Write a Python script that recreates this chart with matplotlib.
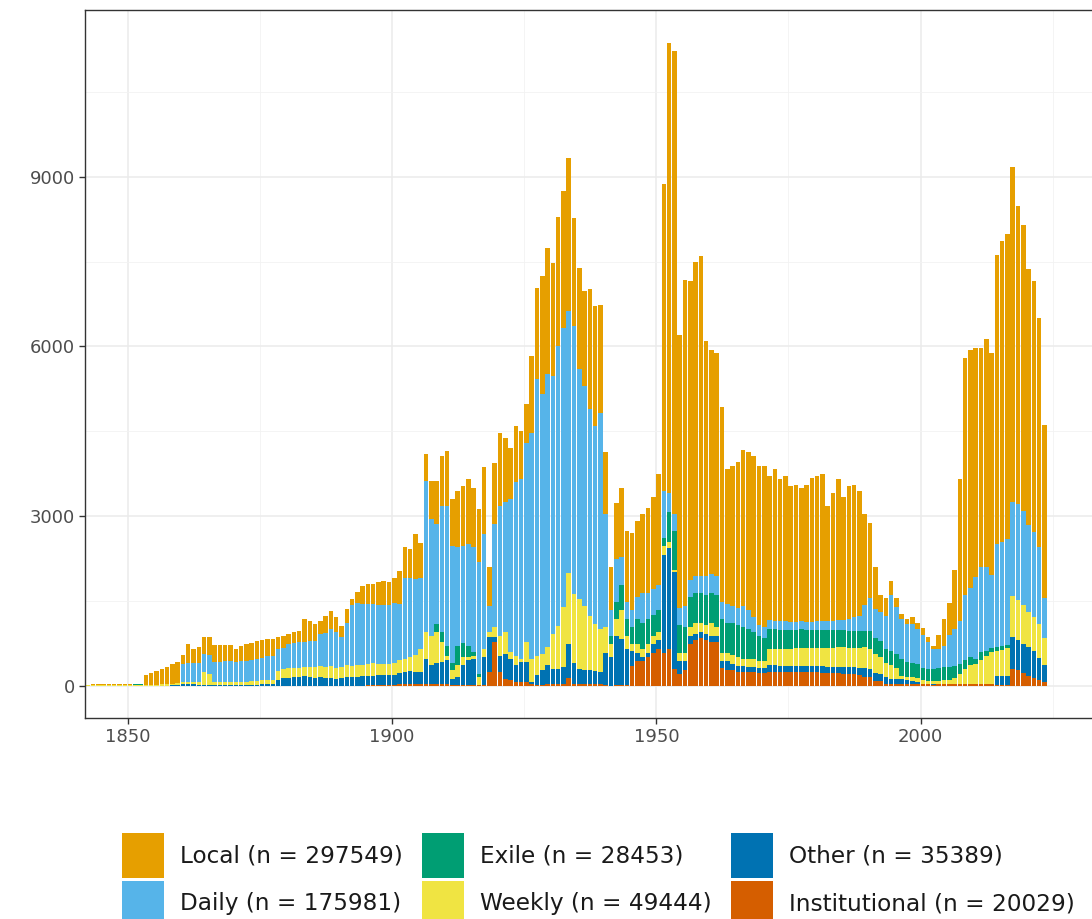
import numpy as np
import matplotlib
matplotlib.use('Agg')
import matplotlib.pyplot as plt
from matplotlib.patches import Patch

years = list(range(1842, 2024))

institutional = [
    0, 0, 0, 0, 0, 0, 0, 0, 0, 0, 0,                      # 1842-1852
    0, 0, 0, 0, 0, 0, 0, 0, 0, 0, 0, 0, 0, 0, 0, 0, 0,    # 1853-1869
    0, 0, 0, 0, 0, 0, 0, 0, 0, 0, 0, 0, 0, 0, 0, 0, 0,    # 1870-1886
    0, 0, 0, 0, 0, 0, 0, 0, 10, 10, 10, 10, 10, 20, 30,   # 1887-1901
    40, 40, 40, 30,                                       # 1902-1905
    30, 30, 30, 30, 30, 20, 20, 20, 20, 20, 5, 20, 241, 770,  # 1906-1919
    240, 124, 100, 65, 65, 65, 40,                        # 1920-1926
    20, 20, 30, 30, 30, 40, 135, 40, 30, 30, 30, 30, 30, 20,  # 1927-1940
    0, 20, 20, 20, 355, 430, 430, 505, 581, 656, 580, 650, 300,  # 1941-1953
    204, 279, 732, 807, 845, 807, 770, 770, 317, 279, 279, 241, 241, 241, 241, 234, 234,  # 1954-1970
    250, 250, 245, 245, 240, 240, 240, 235, 235, 235, 230, 225, 220, 220, 215, 210, 200, 190,  # 1971-1988
    155, 150, 93, 80, 40, 30, 30, 30, 30, 30, 30, 25, 25, 20, 25, 30, 30, 30, 30,  # 1989-2007
    30, 30, 30, 30, 30, 30, 20, 20, 20, 300, 270, 230, 180, 140, 106, 65,  # 2008-2023
]

other = [
    0, 0, 0, 0, 0, 0, 0, 0, 0, 0, 0,
    0, 0, 0, 0, 0, 5, 20, 35, 40, 30, 20, 15, 10, 10, 10, 10, 10,
    10, 15, 15, 20, 20, 25, 30, 30, 110, 130, 140, 150, 150, 170, 150, 140, 150,
    130, 140, 120, 130, 150, 150, 160, 170, 160, 170, 180, 180, 180, 170, 190,
    200, 220, 210, 220,
    446, 329, 370, 388, 417, 104, 130, 339, 427, 456, 5, 486, 618, 90,
    295, 441, 376, 294, 353, 353, 25,
    162, 250, 329, 270, 270, 290, 606, 360, 270, 250, 240, 230, 220, 561,
    505, 863, 810, 636, 264, 151, 75, 76, 151, 151, 1736, 1779, 1714,
    226, 151, 151, 113, 113, 113, 113, 113, 113, 151, 113, 114, 114, 99, 91, 83, 83,
    110, 110, 110, 105, 105, 110, 110, 110, 110, 115, 115, 115, 120, 120, 125, 125, 130, 130,
    155, 150, 127, 120, 110, 94, 94, 90, 80, 60, 30, 15, 5, 5, 5, 10, 10, 10, 10,
    10, 10, 10, 10, 10, 10, 150, 150, 150, 567, 535, 513, 501, 480, 389, 307,
]

weekly = [
    12, 14, 15, 15, 16, 15, 14, 15, 16, 18, 18,
    20, 20, 20, 25, 25, 30, 30, 30, 30, 35, 40, 220, 200, 50, 50, 50, 50,
    55, 55, 60, 60, 70, 70, 80, 80, 150, 160, 170, 170, 170, 160, 180, 190, 200,
    200, 210, 200, 210, 220, 200, 210, 200, 210, 220, 200, 190, 200, 220, 230,
    240, 250, 300, 400,
    471, 529, 547, 352, 88, 146, 209, 147, 59, 59, 143, 147, 88, 175,
    353, 382, 118, 176, 58, 352, 411,
    353, 290, 323, 618, 765, 1070, 1259, 1224, 1235, 1138, 971, 840, 756, 452,
    227, 301, 505, 227, 113, 151, 151, 151, 151, 151, 151, 113, 38,
    151, 151, 150, 189, 151, 150, 226, 150, 151, 151, 151, 150, 113, 128, 136, 113, 113,
    290, 290, 300, 300, 310, 310, 320, 320, 320, 320, 330, 330, 330, 340, 340, 340, 340, 340,
    370, 350, 340, 300, 250, 246, 196, 60, 40, 60, 80, 70, 60, 55, 60, 60, 70, 90, 160,
    260, 320, 340, 420, 480, 550, 450, 470, 490, 713, 712, 681, 619, 588, 589, 464,
]

exile = [
    5, 5, 5, 5, 5, 5, 5, 5, 5, 5, 5,
    0, 0, 0, 0, 0, 0, 0, 0, 0, 0, 0, 0, 0, 0, 0, 0, 0,
    0, 0, 0, 0, 0, 0, 0, 0, 0, 0, 0, 0, 0, 0, 0, 0, 0,
    0, 0, 0, 0, 0, 0, 0, 0, 0, 0, 0, 0, 0, 0, 0,
    0, 0, 0, 0,
    0, 0, 147, 177, 177, 130, 341, 244, 194, 65, 59, 0, 0, 0,
    0, 0, 0, 0, 0, 0, 0,
    0, 0, 0, 0, 0, 0, 0, 0, 0, 0, 0, 0, 0, 0,
    151, 302, 453, 301, 301, 452, 453, 452, 377, 377, 150, 528, 679,
    490, 452, 528, 528, 528, 530, 528, 567, 603, 528, 566, 566, 565, 528, 490, 453, 415,
    350, 350, 340, 340, 340, 330, 330, 330, 320, 320, 320, 320, 310, 310, 310, 300, 300, 300,
    280, 310, 290, 300, 250, 250, 240, 296, 270, 250, 240, 210, 210, 210, 220, 230, 230, 220, 180,
    150, 140, 100, 140, 100, 70, 60, 60, 60, 0, 0, 0, 0, 0, 0, 0,
]

daily = [
    0, 0, 0, 0, 0, 0, 0, 0, 0, 0, 0,
    0, 0, 0, 0, 0, 0, 0, 320, 330, 330, 350, 330, 340, 360, 360, 370, 380,
    350, 360, 370, 380, 390, 400, 410, 420, 390, 380, 420, 440, 460, 440, 460, 470, 560,
    600, 650, 630, 520, 740, 1080, 1100, 1080, 1060, 1050, 1040, 1050, 1040, 1050, 1000,
    1420, 1400, 1330, 1250,
    2677, 2059, 1765, 2236, 2471, 2077, 1750, 1727, 1806, 1850, 1971, 2030, 471, 1824,
    2295, 2295, 2706, 3060, 3177, 3530, 4001,
    4883, 4593, 4824, 4559, 4942, 4930, 4624, 4736, 4060, 3882, 3648, 3494, 3824, 1999,
    452, 754, 490, 302, 302, 377, 528, 453, 452, 453, 830, 339, 301,
    302, 377, 302, 302, 302, 339, 339, 339, 302, 339, 301, 302, 377, 339, 264, 188, 188,
    160, 150, 150, 150, 140, 140, 140, 140, 150, 150, 150, 160, 170, 170, 180, 200, 250, 280,
    464, 588, 512, 500, 590, 980, 840, 704, 680, 700, 620, 580, 480, 360, 340, 370, 560, 650, 770,
    1160, 1234, 1440, 1506, 1486, 1291, 1828, 1850, 1881, 1671, 1703, 1673, 1549, 1517, 1362, 712,
]

local = [
    5, 5, 5, 5, 5, 5, 5, 5, 5, 5, 5,
    174, 209, 233, 265, 305, 353, 368, 162, 341, 258, 272, 294, 309, 304, 304, 294, 284,
    238, 282, 295, 300, 310, 315, 310, 300, 220, 218, 190, 190, 197, 412, 363, 294, 243,
    311, 330, 262, 205, 249, 105, 183, 321, 360, 350, 400, 420, 412, 450, 580,
    550, 510, 800, 630,
    471, 677, 765, 882, 970, 823, 997, 1058, 1146, 1050, 941, 1177, 677, 1088,
    1294, 1147, 912, 1000, 853, 677, 1353,
    1619, 2089, 2237, 2001, 2283, 2412, 2707, 1912, 1795, 1677, 2131, 2119, 1900, 1098,
    757, 990, 1212, 1244, 1365, 1360, 1393, 1503, 1624, 1964, 5433, 7961, 8186,
    4829, 5774, 5287, 5546, 5659, 4150, 3963, 3940, 3435, 2379, 2480, 2577, 2756, 2795, 2848, 2819, 2857,
    2554, 2677, 2515, 2574, 2390, 2420, 2350, 2415, 2545, 2574, 2605, 2036, 2260, 2500, 2166, 2350, 2330, 2210,
    1611, 1332, 743, 310, 308, 258, 148, 90, 77, 108, 115, 122, 87, 62, 248, 477, 555, 1044, 2504,
    4180, 4211, 4056, 3870, 4025, 3932, 5109, 5315, 5388, 5915, 5264, 5047, 4521, 4428, 4057, 3066,
]

labels = ['Local (n = 297549)', 'Daily (n = 175981)', 'Exile (n = 28453)',
          'Weekly (n = 49444)', 'Other (n = 35389)', 'Institutional (n = 20029)']
colors = ['#E69F00', '#56B4E9', '#009E73', '#F0E442', '#0072B2', '#D55E00']

# stacked bottom to top
stack = [
    (institutional, colors[5]),
    (other, colors[4]),
    (weekly, colors[3]),
    (exile, colors[2]),
    (daily, colors[1]),
    (local, colors[0]),
]

fig = plt.figure(figsize=(10.92, 9.19), dpi=100)
ax = fig.add_axes([85 / 1092, 1 - 718 / 919, 1 - 85 / 1092 + 0.01, 708 / 919])

bottom = np.zeros(len(years))
for vals, col in stack:
    vals = np.array(vals, dtype=float)
    ax.bar(years, vals, width=0.86, bottom=bottom, color=col,
           align='edge', linewidth=0)
    bottom += vals

ax.set_xlim(1841.9, 2034.5)
ax.set_ylim(-570, 11950)
ax.set_xticks([1850, 1900, 1950, 2000])
ax.set_xticks([1875, 1925, 1975, 2025], minor=True)
ax.set_yticks([0, 3000, 6000, 9000])
ax.set_yticks([1500, 4500, 7500, 10500], minor=True)
ax.grid(which='major', color='#EBEBEB', linewidth=1.1)
ax.grid(which='minor', color='#F2F2F2', linewidth=0.6)
ax.set_axisbelow(True)
ax.tick_params(which='minor', length=0)
ax.tick_params(which='major', length=4, width=1, color='#333333',
               labelcolor='#4D4D4D', labelsize=13, pad=3)
for side in ['left', 'bottom', 'top']:
    ax.spines[side].set_color('#333333')
    ax.spines[side].set_linewidth(1)
ax.spines['right'].set_visible(False)

handles = [Patch(facecolor=c, edgecolor='none') for c in colors]
fig.legend(handles, labels, ncol=3, loc='upper left',
           bbox_to_anchor=(122 / 1092, 1 - 833 / 919), frameon=False,
           fontsize=16.7, handlelength=1.81, handleheight=2.6,
           handletextpad=0.7, columnspacing=0.82, labelspacing=0.13,
           borderpad=0, borderaxespad=0, labelcolor='#1A1A1A')

fig.savefig('out.png', dpi=100)
